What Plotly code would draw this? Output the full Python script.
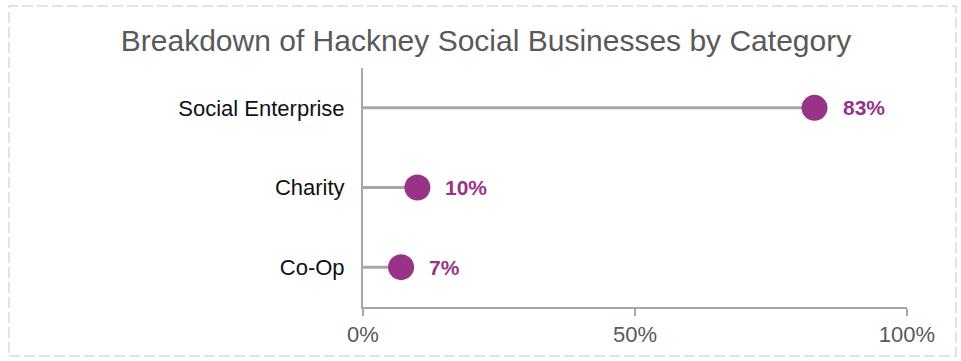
import plotly.graph_objects as go

categories = ["Social Enterprise", "Charity", "Co-Op"]
values = [83, 10, 7]
x_ticks = [0, 50, 100]
x_tick_labels = ["0%", "50%", "100%"]
title = "Breakdown of Hackney Social Businesses by Category"

purple = "#993388"
grey = "#a6a6a6"
font_family = "Liberation Sans, Arial"

fig = go.Figure()

# stems
for c, v in zip(categories, values):
    fig.add_trace(go.Scatter(x=[0, v], y=[c, c], mode="lines",
                             line=dict(color=grey, width=3), hoverinfo="skip",
                             showlegend=False))

fig.add_trace(go.Scatter(x=values, y=categories, mode="markers",
                         marker=dict(color=purple, size=26, line=dict(width=0)),
                         showlegend=False))

for c, v in zip(categories, values):
    fig.add_annotation(x=v, y=c, text=f"<b>{v}%</b>", showarrow=False,
                       xanchor="left", xshift=26,
                       font=dict(family=font_family, size=21, color=purple))

fig.add_shape(type="rect", xref="paper", yref="paper",
              x0=(9 - 363) / 544, x1=(956 - 363) / 544,
              y0=(307 - 356) / 239, y1=(307 - 6) / 239,
              line=dict(color="#d9d9d9", width=1.5, dash="11px,4px"),
              fillcolor="rgba(0,0,0,0)", layer="below")

fig.update_layout(
    width=961, height=361,
    margin=dict(l=363, r=54, t=68, b=54),
    paper_bgcolor="white", plot_bgcolor="white",
    title=dict(text=title, x=486 / 961, xanchor="center", xref="container",
               y=1 - 40 / 361, yanchor="middle", yref="container",
               font=dict(family=font_family, size=30, color="#595959")),
    font=dict(family=font_family),
)

fig.update_xaxes(range=[0, 100], tickvals=x_ticks, ticktext=x_tick_labels,
                 showgrid=False, zeroline=False, showline=True, linecolor=grey,
                 linewidth=2, ticks="outside", tickcolor=grey, ticklen=7, tickwidth=2,
                 tickfont=dict(size=22, color="#595959"), fixedrange=True)
fig.update_yaxes(categoryorder="array", categoryarray=categories[::-1],
                 range=[-0.5, 2.5], showgrid=False, zeroline=False, showline=True,
                 linecolor=grey, linewidth=2, ticks="", ticklabelstandoff=12,
                 tickfont=dict(size=22, color="#111111"), fixedrange=True)

fig.write_html("out.html")
